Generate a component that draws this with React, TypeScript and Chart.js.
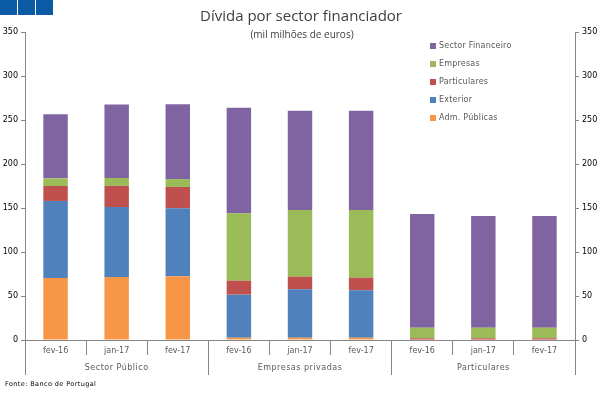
import React, { useEffect, useRef } from "react";
import { Chart, registerables } from "chart.js";

Chart.register(...registerables);

const categories = ["fev-16", "jan-17", "fev-17", "fev-16", "jan-17", "fev-17", "fev-16", "jan-17", "fev-17"];
const groups = ["Sector Público", "Empresas privadas", "Particulares"];
const groupSize = 3;

const admPublicas = [70.5, 71.6, 72.4, 2.6, 2.6, 2.6, 0.5, 0.5, 0.5];
const exterior = [87.5, 79.5, 77.3, 48.9, 55.0, 53.9, 0, 0, 0];
const particulares = [17.0, 24.0, 24.2, 15.9, 14.4, 14.3, 1.5, 1.5, 1.5];
const empresas = [8.7, 9.0, 9.0, 76.6, 75.7, 76.9, 12.0, 12.0, 12.0];
const sectorFinanceiro = [72.8, 83.4, 85.0, 120.0, 112.9, 112.9, 129.2, 127.0, 127.0];

const title = "Dívida por sector financiador";
const subtitle = "(mil milhões de euros)";
const source = "Fonte: Banco de Portugal";

const FONT = "'DejaVu Sans', sans-serif";
const AXIS = "#868686";

const decor = {
  id: "decor",
  afterDraw(chart: any) {
    const ctx = chart.ctx;
    const x = chart.scales.x;
    const area = chart.chartArea;
    ctx.save();
    // title
    ctx.fillStyle = "#404040";
    ctx.textAlign = "center";
    ctx.textBaseline = "middle";
    ctx.font = `15px 'Open Sans', sans-serif`;
    ctx.fillText(title, 301, 17);
    ctx.font = `10px 'Open Sans', sans-serif`;
    ctx.fillText(subtitle, 302, 35);

    // group separators and labels
    const half = (x.getPixelForValue(1) - x.getPixelForValue(0)) / 2;
    ctx.strokeStyle = AXIS;
    ctx.lineWidth = 1;
    for (let g = 0; g <= groups.length; g++) {
      const idx = g * groupSize;
      const raw = x.getPixelForValue(Math.min(idx, categories.length - 1)) + (idx >= categories.length ? half : -half);
      const px = Math.round(raw - 0.5) + 0.5;
      ctx.beginPath();
      ctx.moveTo(px, area.bottom);
      ctx.lineTo(px, area.bottom + 35);
      ctx.stroke();
    }
    ctx.fillStyle = "#595959";
    ctx.font = `8px ${FONT}`;
    (ctx as any).letterSpacing = "0.5px";
    groups.forEach((gname, g) => {
      const mid = x.getPixelForValue(g * groupSize + (groupSize - 1) / 2);
      ctx.fillText(gname, mid, area.bottom + 28);
    });

    // legend
    const ds = chart.data.datasets;
    ctx.textAlign = "left";
    ctx.font = `8px ${FONT}`;
    (ctx as any).letterSpacing = "0.2px";
    for (let i = ds.length - 1, k = 0; i >= 0; i--, k++) {
      const y = 46 + k * 18;
      ctx.fillStyle = ds[i].backgroundColor;
      ctx.fillRect(430, y - 3, 6, 6);
      ctx.fillStyle = "#595959";
      ctx.fillText(ds[i].label, 439, y);
    }

    // source
    (ctx as any).letterSpacing = "0.4px";
    ctx.fillStyle = "#000";
    ctx.font = `6.5px ${FONT}`;
    ctx.fillText(source, 5, 384);
    ctx.restore();
  },
};

export default function App() {
  const ref = useRef<HTMLCanvasElement>(null);
  useEffect(() => {
    const chart = new Chart(ref.current!, {
      type: "bar",
      data: {
        labels: categories,
        datasets: [
          { label: "Adm. Públicas", data: admPublicas, backgroundColor: "#F79646" },
          { label: "Exterior", data: exterior, backgroundColor: "#4F81BD" },
          { label: "Particulares", data: particulares, backgroundColor: "#C0504D" },
          { label: "Empresas", data: empresas, backgroundColor: "#9BBB59" },
          { label: "Sector Financeiro", data: sectorFinanceiro, backgroundColor: "#8064A2" },
        ],
      },
      options: {
        responsive: false,
        animation: false,
        devicePixelRatio: 1,
        layout: { padding: { top: 32, left: 0, right: 0, bottom: 0 } },
        datasets: { bar: { categoryPercentage: 1, barPercentage: 0.4, borderWidth: 0 } },
        plugins: { legend: { display: false }, tooltip: { enabled: false }, title: { display: false } },
        scales: {
          x: {
            stacked: true,
            offset: true,
            afterFit: (s: any) => { s.height = 53; },
            grid: { offset: true, drawOnChartArea: false, drawTicks: true, tickLength: 15, color: AXIS },
            border: { color: AXIS },
            ticks: { font: { family: FONT, size: 8 }, color: "#595959", padding: -9, maxRotation: 0, autoSkip: false },
          },
          y: {
            stacked: true,
            min: 0,
            max: 350,
            position: "left",
            afterFit: (s: any) => { s.width = 25; },
            grid: { drawOnChartArea: false, drawTicks: true, tickLength: 4, color: AXIS },
            border: { color: AXIS },
            ticks: { stepSize: 50, font: { family: FONT, size: 8 }, color: "#000", padding: 3 },
          },
          y2: {
            min: 0,
            max: 350,
            position: "right",
            afterFit: (s: any) => { s.width = 25; },
            grid: { drawOnChartArea: false, drawTicks: true, tickLength: 4, color: AXIS },
            border: { color: AXIS },
            ticks: { stepSize: 50, font: { family: FONT, size: 8 }, color: "#000", padding: 3 },
          },
        },
      },
      plugins: [decor],
    });
    return () => chart.destroy();
  }, []);
  return (
    <div style={{ position: "fixed", left: 0, top: 0, width: 600, height: 393, background: "#fff" }}>
      <canvas ref={ref} width={600} height={393} />
      <div style={{ position: "absolute", left: 0, top: 0, display: "flex", gap: 1 }}>
        <div style={{ width: 17, height: 15, background: "#0B5AA5" }} />
        <div style={{ width: 17, height: 15, background: "#0B5AA5" }} />
        <div style={{ width: 17, height: 15, background: "#0B5AA5" }} />
      </div>
    </div>
  );
}
